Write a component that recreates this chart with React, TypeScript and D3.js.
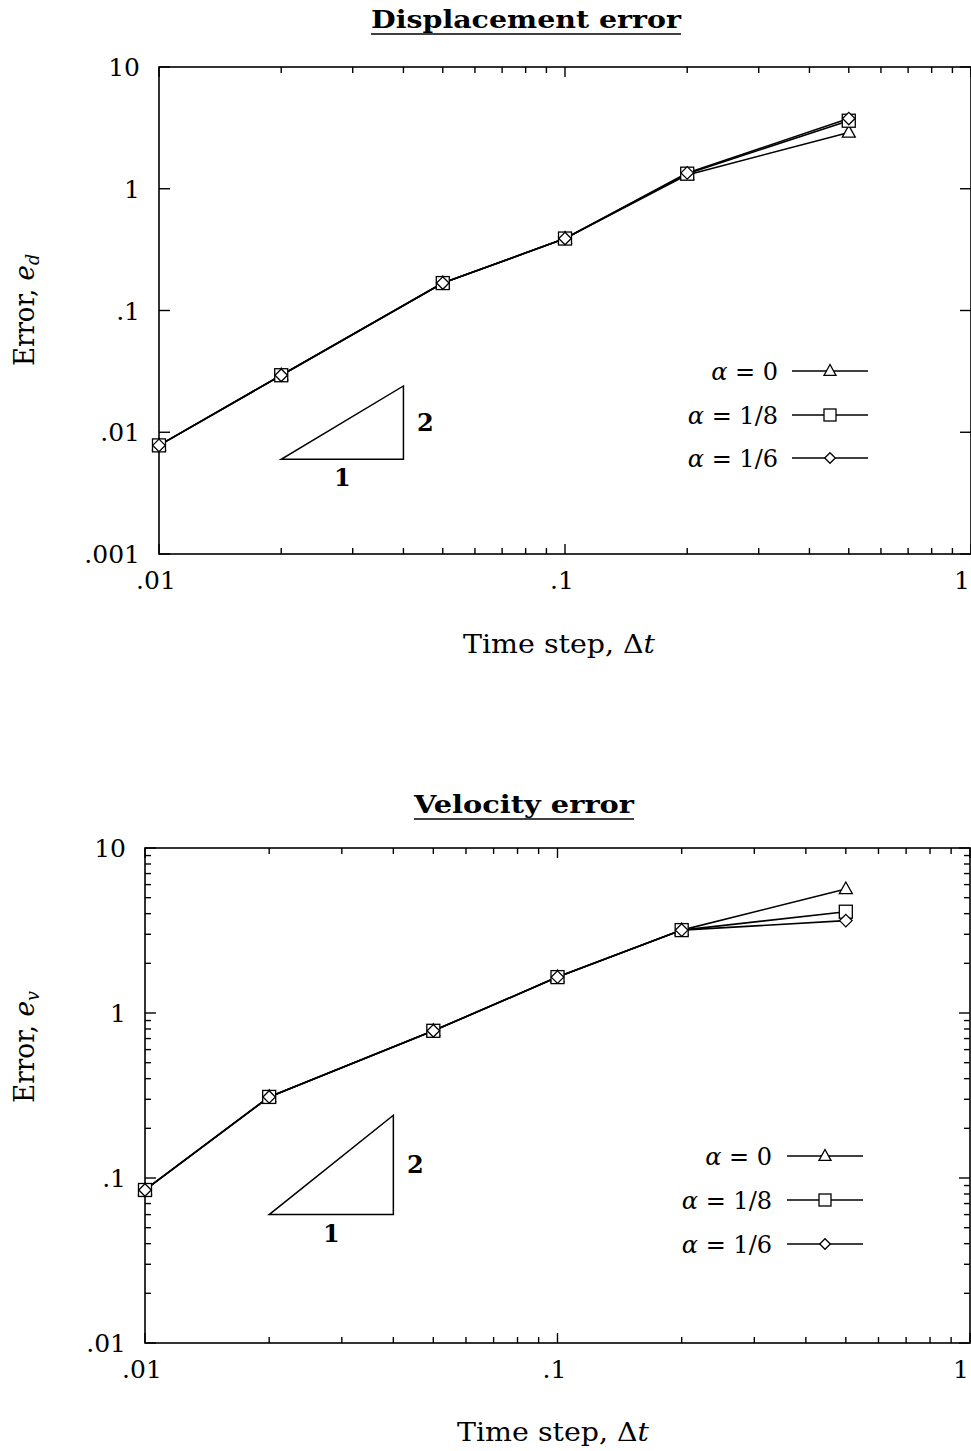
import React from "react";
import * as d3 from "d3";

// ---------- data ----------
const timeSteps = [0.01, 0.02, 0.05, 0.1, 0.2, 0.5];

const dispAlpha0 = [0.0078, 0.0294, 0.168, 0.39, 1.3, 2.9];
const dispAlpha18 = [0.0078, 0.0294, 0.168, 0.39, 1.33, 3.62];
const dispAlpha16 = [0.0078, 0.0294, 0.168, 0.39, 1.35, 3.77];

const velAlpha0 = [0.0846, 0.31, 0.78, 1.65, 3.18, 5.64];
const velAlpha18 = [0.0846, 0.31, 0.78, 1.65, 3.18, 4.11];
const velAlpha16 = [0.0846, 0.31, 0.78, 1.65, 3.18, 3.63];

const legendLabels = ["0", "1/8", "1/6"];
const markerKinds = ["triangle", "square", "diamond"];

const xTickLabels: [number, string][] = [
  [0.01, ".01"],
  [0.1, ".1"],
  [1, "1"],
];
const dispYTickLabels: [number, string][] = [
  [10, "10"],
  [1, "1"],
  [0.1, ".1"],
  [0.01, ".01"],
  [0.001, ".001"],
];
const velYTickLabels: [number, string][] = [
  [10, "10"],
  [1, "1"],
  [0.1, ".1"],
  [0.01, ".01"],
];

// slope triangle (data coordinates)
const dispSlopeX = [0.02, 0.04];
const dispSlopeY = [0.006, 0.024];
const velSlopeX = [0.02, 0.04];
const velSlopeY = [0.06, 0.24];

const FONT = "'DejaVu Serif', 'Liberation Serif', serif";

function Marker({ kind, x, y, s }: { kind: string; x: number; y: number; s: number }) {
  const common = { fill: "white", stroke: "black", strokeWidth: 1.3 };
  if (kind === "square") {
    return <rect x={x - s / 2} y={y - s / 2} width={s} height={s} {...common} />;
  }
  if (kind === "diamond") {
    const h = s * 0.48;
    return (
      <path d={`M${x},${y - h}L${x + h},${y}L${x},${y + h}L${x - h},${y}Z`} {...common} />
    );
  }
  const w = s * 1.0;
  const h = s * 0.9;
  return (
    <path
      d={`M${x},${y - h * 0.6}L${x + w / 2},${y + h * 0.4}L${x - w / 2},${y + h * 0.4}Z`}
      {...common}
    />
  );
}

type PanelProps = {
  x0: number;
  x1: number;
  yTop: number;
  yBot: number;
  yDomain: [number, number];
  minorY: boolean;
  series: number[][];
  yTicks: [number, string][];
  title: string;
  titleX: number;
  titleY: number;
  titleLen: number;
  xLabelX: number;
  xLabelY: number;
  yLabelX: number;
  yLabelY: number;
  ySub: string;
  legendRight: number;
  legendLine: [number, number];
  legendYs: number[];
  slopeX: number[];
  slopeY: number[];
};

function Panel(p: PanelProps) {
  const x = d3.scaleLog().domain([0.01, 1]).range([p.x0, p.x1]);
  const y = d3.scaleLog().domain(p.yDomain).range([p.yBot, p.yTop]);
  const line = d3
    .line<number>()
    .x((_, i) => x(timeSteps[i]))
    .y((d) => y(d));

  const xTicks = x.ticks();
  const yTicksAll = y.ticks();
  const isMajor = (v: number) => Math.abs(Math.log10(v) - Math.round(Math.log10(v))) < 1e-6;

  const tickEls: React.ReactNode[] = [];
  xTicks.forEach((t, i) => {
    const len = isMajor(t) ? 10 : 6;
    const px = x(t);
    tickEls.push(<line key={`xb${i}`} x1={px} x2={px} y1={p.yBot} y2={p.yBot - len} />);
    tickEls.push(<line key={`xt${i}`} x1={px} x2={px} y1={p.yTop} y2={p.yTop + len} />);
  });
  yTicksAll.forEach((t, i) => {
    const major = isMajor(t);
    if (!major && !p.minorY) return;
    const len = major ? 11 : 6;
    const py = y(t);
    tickEls.push(<line key={`yl${i}`} x1={p.x0} x2={p.x0 + len} y1={py} y2={py} />);
    tickEls.push(<line key={`yr${i}`} x1={p.x1} x2={p.x1 - len} y1={py} y2={py} />);
  });

  const [sx0, sx1] = p.slopeX;
  const [sy0, sy1] = p.slopeY;

  return (
    <g fontFamily={FONT} fill="black">
      {/* title */}
      <text
        x={p.titleX}
        y={p.titleY}
        textAnchor="middle"
        fontSize={25}
        fontWeight="bold"
        textLength={p.titleLen}
        lengthAdjust="spacingAndGlyphs"
      >
        {p.title}
      </text>
      <line
        x1={p.titleX - p.titleLen / 2}
        x2={p.titleX + p.titleLen / 2}
        y1={p.titleY + 6}
        y2={p.titleY + 6}
        stroke="black"
        strokeWidth={1.6}
      />

      {/* frame */}
      <rect
        x={p.x0}
        y={p.yTop}
        width={p.x1 - p.x0}
        height={p.yBot - p.yTop}
        fill="none"
        stroke="black"
        strokeWidth={1.6}
      />
      <g stroke="black" strokeWidth={1.4}>
        {tickEls}
      </g>

      {/* tick labels */}
      {xTickLabels.map(([v, s]) => (
        <text
          key={s}
          x={v === 1 ? x(v) - 1 : x(v) - 3}
          y={p.yBot + 35}
          textAnchor={v === 1 ? "end" : "middle"}
          fontSize={25}
        >
          {s}
        </text>
      ))}
      {p.yTicks.map(([v, s]) => (
        <text key={s} x={p.x0 - 19} y={y(v) + 9} textAnchor="end" fontSize={25}>
          {s}
        </text>
      ))}

      {/* axis labels */}
      <text
        x={p.xLabelX}
        y={p.xLabelY}
        textAnchor="middle"
        fontSize={26}
        textLength={192}
        lengthAdjust="spacingAndGlyphs"
      >
        Time step, Δ<tspan fontStyle="italic">t</tspan>
      </text>
      <text
        transform={`translate(${p.yLabelX},${p.yLabelY}) rotate(-90)`}
        textAnchor="middle"
        fontSize={27}
        textLength={112}
        lengthAdjust="spacingAndGlyphs"
      >
        Error, <tspan fontStyle="italic">e</tspan>
        <tspan fontStyle="italic" fontSize={18} dy={5}>
          {p.ySub}
        </tspan>
      </text>

      {/* slope triangle */}
      <path
        d={`M${x(sx0)},${y(sy0)}L${x(sx1)},${y(sy0)}L${x(sx1)},${y(sy1)}Z`}
        fill="none"
        stroke="black"
        strokeWidth={1.5}
      />
      <text
        x={x(sx1) + 22}
        y={(y(sy0) + y(sy1)) / 2 + 8}
        textAnchor="middle"
        fontSize={24}
        fontWeight="bold"
      >
        2
      </text>
      <text
        x={(x(sx0) + x(sx1)) / 2}
        y={y(sy0) + 27}
        textAnchor="middle"
        fontSize={24}
        fontWeight="bold"
      >
        1
      </text>

      {/* data lines */}
      {p.series.map((s, i) => (
        <path key={`l${i}`} d={line(s) || ""} fill="none" stroke="black" strokeWidth={1.6} />
      ))}
      {/* markers */}
      {p.series.map((s, i) =>
        s.map((v, j) => (
          <Marker key={`m${i}-${j}`} kind={markerKinds[i]} x={x(timeSteps[j])} y={y(v)} s={13} />
        ))
      )}

      {/* legend */}
      {legendLabels.map((lab, i) => {
        const ly = p.legendYs[i];
        const mx = (p.legendLine[0] + p.legendLine[1]) / 2;
        return (
          <g key={`lg${i}`}>
            <text x={p.legendRight} y={ly + 9} textAnchor="end" fontSize={24}>
              <tspan fontStyle="italic">α</tspan>
              {" = " + lab}
            </text>
            <line
              x1={p.legendLine[0]}
              x2={p.legendLine[1]}
              y1={ly}
              y2={ly}
              stroke="black"
              strokeWidth={1.6}
            />
            <Marker kind={markerKinds[i]} x={mx} y={ly} s={i === 2 ? 11 : 12} />
          </g>
        );
      })}
    </g>
  );
}

export default function App() {
  return (
    <svg
      width={971}
      height={1451}
      style={{ position: "absolute", left: 0, top: 0, background: "white" }}
    >
      <rect width={971} height={1451} fill="white" />
      <Panel
        x0={159}
        x1={971}
        yTop={67}
        yBot={554}
        yDomain={[0.001, 10]}
        minorY={false}
        series={[dispAlpha0, dispAlpha18, dispAlpha16]}
        yTicks={dispYTickLabels}
        title="Displacement error"
        titleX={526}
        titleY={28}
        titleLen={310}
        xLabelX={559}
        xLabelY={653}
        yLabelX={34}
        yLabelY={310}
        ySub="d"
        legendRight={778}
        legendLine={[792, 868]}
        legendYs={[371, 415, 458]}
        slopeX={dispSlopeX}
        slopeY={dispSlopeY}
      />
      <Panel
        x0={145}
        x1={970}
        yTop={848}
        yBot={1343}
        yDomain={[0.01, 10]}
        minorY={true}
        series={[velAlpha0, velAlpha18, velAlpha16]}
        yTicks={velYTickLabels}
        title="Velocity error"
        titleX={524}
        titleY={813}
        titleLen={220}
        xLabelX={553}
        xLabelY={1441}
        yLabelX={34}
        yLabelY={1047}
        ySub="v"
        legendRight={772}
        legendLine={[787, 863]}
        legendYs={[1156, 1200, 1244]}
        slopeX={velSlopeX}
        slopeY={velSlopeY}
      />
    </svg>
  );
}
